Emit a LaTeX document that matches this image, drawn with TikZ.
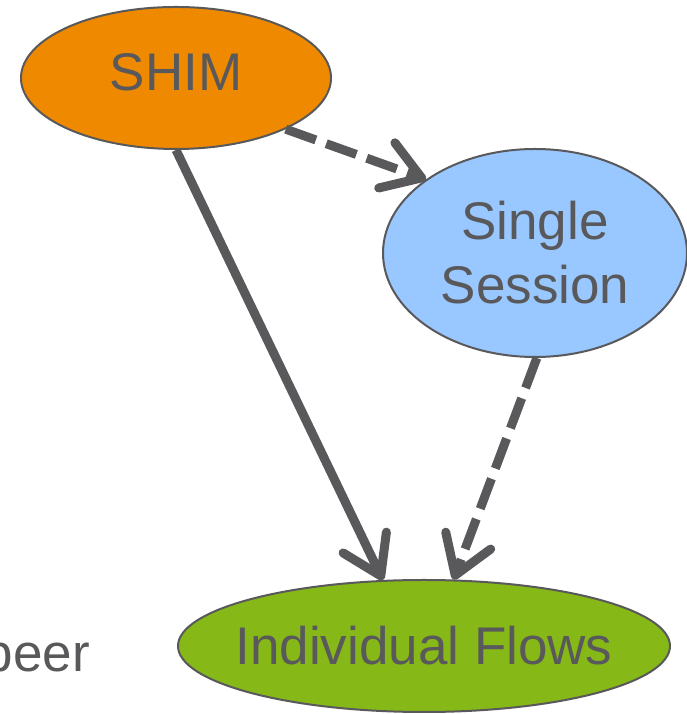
\documentclass[tikz,border=0pt]{standalone}
\usepackage{fontspec}
\setmainfont{Liberation Sans}
\usepackage{tikz}
\usetikzlibrary{shapes.geometric}
\usetikzlibrary{arrows.meta}
\definecolor{shimorange}{RGB}{239,138,0}
\definecolor{sessionblue}{RGB}{153,199,255}
\definecolor{flowgreen}{RGB}{134,184,24}
\definecolor{inkgray}{RGB}{89,89,91}
\tikzset{
	blob/.style={ellipse, draw=inkgray, line width=2pt, inner sep=0pt,
		text=inkgray, font=\fontsize{53}{64}\selectfont, align=center},
	link/.style={draw=inkgray, line width=9pt,
		-{Straight Barb[length=37pt,width=48pt,round]}},
	weaklink/.style={link, dash pattern=on 32pt off 11pt},
}

\begin{document}
\begin{tikzpicture}[x=1pt,y=1pt]
	\useasboundingbox (0,0) rectangle (687,714);
	\clip (0,0) rectangle (687,714);
	\node[blob, fill=shimorange, minimum width=310pt, minimum height=142pt, text depth=12pt] at (176,636) (shim) {SHIM};
	\node[blob, fill=sessionblue, minimum width=304pt, minimum height=208pt] at (535,461) (single) {Single\\Session};
	\node[blob, fill=flowgreen, minimum width=492pt, minimum height=132pt, inner xsep=-22pt] at (424,68) (flows) {Individual Flows};
	\node[anchor=base east, inner sep=0pt, text=inkgray, font=\fontsize{53}{64}\selectfont] at (90,42) (peer) {peer};
	% dependencies
	\draw[link] (shim.south) -- (flows.122);
	\draw[weaklink] (shim.-25) -- (single.146);
	\draw[weaklink] (single.-89) -- (flows.66);
\end{tikzpicture}
\end{document}
